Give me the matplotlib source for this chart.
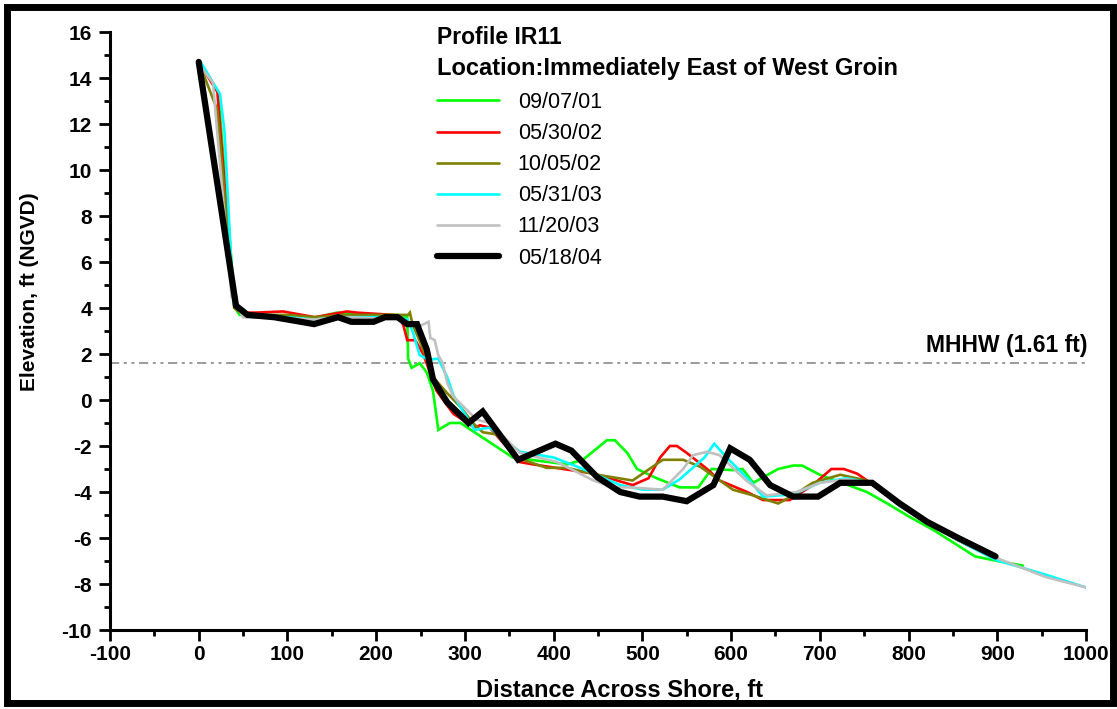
import matplotlib
matplotlib.use("Agg")
import matplotlib.pyplot as plt
from matplotlib.patches import Rectangle
from matplotlib.ticker import MultipleLocator

plt.rcParams['font.family'] = ['Liberation Sans', 'DejaVu Sans']
plt.rcParams['axes.unicode_minus'] = False

# ---- survey data: distance across shore (ft) and elevation (ft NGVD) ----
x_090701 = [0, 22, 41, 46, 70, 100, 133, 156, 180, 197, 224, 235, 236, 240, 249, 257, 264, 270,
            283, 295, 354, 415, 433, 460, 469, 483, 494, 516, 542, 563, 578, 602, 613, 625, 653,
            670, 680, 700, 753, 776, 802, 828, 875, 900, 929]
z_090701 = [14.7, 13.4, 4.0, 3.7, 3.7, 3.6, 3.6, 3.8, 3.7, 3.7, 3.7, 3.6, 1.8, 1.4, 1.6, 1.2, 0.4,
            -1.3, -1.0, -1.0, -2.5, -2.8, -2.6, -1.75, -1.75, -2.3, -3.0, -3.4, -3.8, -3.8, -3.0,
            -3.05, -3.0, -3.6, -3.0, -2.85, -2.85, -3.25, -4.0, -4.5, -5.1, -5.65, -6.8, -7.0, -7.2]

x_053002 = [0, 21, 40, 50, 65, 95, 131, 167, 178, 219, 227, 231, 235, 244, 253, 268, 287, 311,
            317, 328, 362, 377, 411, 445, 489, 507, 520, 531, 539, 550, 573, 587, 618, 636, 666,
            692, 713, 727, 742, 757, 790, 821, 856, 898]
z_053002 = [14.7, 13.4, 4.1, 3.8, 3.8, 3.85, 3.6, 3.85, 3.8, 3.7, 3.6, 3.2, 2.6, 2.6, 2.0, 0.4,
            -0.6, -1.2, -1.1, -1.2, -2.7, -2.8, -3.0, -3.2, -3.7, -3.4, -2.5, -2.0, -2.0, -2.3,
            -3.0, -3.5, -4.0, -4.35, -4.35, -3.7, -3.0, -3.0, -3.2, -3.6, -4.6, -5.3, -6.1, -6.9]

x_100502 = [0, 21, 40, 50, 100, 130, 167, 219, 236, 238, 241, 253, 264, 280, 295, 309, 320, 336,
            358, 392, 415, 449, 489, 523, 546, 565, 580, 602, 625, 653, 670, 692, 723, 753, 790,
            821, 856, 898]
z_100502 = [14.7, 12.6, 4.0, 3.7, 3.7, 3.6, 3.7, 3.7, 3.7, 3.8, 3.3, 2.2, 1.0, 0.3, -0.3, -1.0,
            -1.4, -1.5, -2.5, -2.95, -2.95, -3.25, -3.5, -2.6, -2.6, -2.9, -3.3, -3.9, -4.15,
            -4.5, -4.15, -3.6, -3.25, -3.5, -4.5, -5.3, -6.1, -6.9]

x_053103 = [2, 24, 29, 39, 61, 100, 130, 160, 200, 224, 235, 241, 249, 259, 270, 280, 287, 311,
            328, 362, 400, 430, 475, 501, 523, 542, 570, 581, 595, 621, 636, 670, 700, 730, 757,
            790, 821, 856, 898, 955, 1000]
z_053103 = [14.7, 13.3, 11.7, 4.2, 3.6, 3.6, 3.5, 3.6, 3.6, 3.6, 3.5, 3.0, 1.95, 1.75, 1.8, 1.0,
            0.2, -1.3, -1.2, -2.25, -2.5, -2.95, -3.7, -3.9, -3.9, -3.45, -2.5, -1.9, -2.5, -3.5,
            -4.2, -4.1, -3.6, -3.4, -3.6, -4.6, -5.3, -6.1, -6.95, -7.6, -8.15]

x_112003 = [0, 16, 37, 50, 100, 130, 160, 200, 224, 240, 251, 259, 261, 266, 270, 275, 280, 287,
            313, 328, 362, 404, 445, 467, 486, 523, 546, 557, 573, 587, 617, 640, 674, 700, 730,
            757, 790, 821, 856, 898, 955, 1000]
z_112003 = [14.6, 13.8, 4.5, 3.6, 3.55, 3.5, 3.6, 3.55, 3.55, 3.3, 3.25, 3.4, 2.7, 2.6, 1.95, 1.6,
            0.75, 0.15, -0.85, -1.0, -2.3, -2.7, -3.5, -3.8, -3.8, -3.9, -3.0, -2.4, -2.25, -2.4,
            -3.5, -4.15, -4.0, -3.6, -3.45, -3.6, -4.55, -5.3, -6.05, -6.85, -7.7, -8.15]

x_051804 = [0, 42, 55, 85, 100, 130, 157, 172, 197, 210, 224, 235, 246, 257, 264, 280, 304, 320,
            360, 402, 420, 449, 475, 497, 523, 550, 580, 599, 621, 644, 670, 698, 723, 759, 790,
            821, 856, 898]
z_051804 = [14.7, 4.1, 3.7, 3.6, 3.5, 3.3, 3.6, 3.4, 3.4, 3.6, 3.6, 3.3, 3.3, 2.2, 0.9, -0.1,
            -1.0, -0.5, -2.6, -1.9, -2.2, -3.35, -4.0, -4.2, -4.2, -4.4, -3.7, -2.1, -2.6, -3.7,
            -4.2, -4.2, -3.6, -3.6, -4.5, -5.3, -6.0, -6.8]

survey_dates = ['09/07/01', '05/30/02', '10/05/02', '05/31/03', '11/20/03', '05/18/04']
mhhw = 1.61

profiles = [
    (x_090701, z_090701, '#00FF00', 1.9),
    (x_053002, z_053002, '#FF0000', 1.9),
    (x_100502, z_100502, '#808000', 1.9),
    (x_053103, z_053103, '#00FFFF', 1.9),
    (x_112003, z_112003, '#C0C0C0', 1.9),
    (x_051804, z_051804, '#000000', 4.5),
]

W, H = 1117, 709
fig = plt.figure(figsize=(W / 100, H / 100), dpi=100)
ax = fig.add_axes([110 / W, 1 - 630 / H, (1086 - 110) / W, (630 - 32) / H])

handles = []
for (xs, zs, color, lw), label in zip(profiles, survey_dates):
    line, = ax.plot(xs, zs, color=color, lw=lw, label=label,
                    solid_joinstyle='miter', solid_capstyle='round')
    handles.append(line)

# mean higher high water reference line
ax.axhline(mhhw, color='#808080', lw=1.1, dashes=(6, 3, 2, 3, 2, 3), zorder=0.5)
ax.text(1002, mhhw + 0.25, 'MHHW (1.61 ft)', ha='right', va='bottom',
        fontsize=16.5, fontweight='bold', clip_on=False)

ax.set_xlim(-100, 1000)
ax.set_ylim(-10, 16)
ax.xaxis.set_major_locator(MultipleLocator(100))
ax.xaxis.set_minor_locator(MultipleLocator(50))
ax.yaxis.set_major_locator(MultipleLocator(2))
ax.yaxis.set_minor_locator(MultipleLocator(1))

for side in ('top', 'right'):
    ax.spines[side].set_visible(False)
for side in ('left', 'bottom'):
    ax.spines[side].set_linewidth(2.2)

ax.tick_params(which='major', direction='out', length=8, width=2.0,
               labelsize=15, pad=3)
ax.tick_params(which='minor', direction='out', length=4.5, width=2.0)
ax.tick_params(axis='y', which='major', pad=5)
for lab in ax.get_xticklabels() + ax.get_yticklabels():
    lab.set_fontweight('bold')

ax.set_xlabel('Distance Across Shore, ft', fontsize=17, fontweight='bold', va='center')
ax.set_ylabel('Elevation, ft (NGVD)', fontsize=15, fontweight='bold', va='center')
ax.xaxis.set_label_coords((620 - 110) / (1086 - 110), -(690 - 630) / (630 - 32))
ax.yaxis.set_label_coords(-(110 - 30) / (1086 - 110), (630 - 292) / (630 - 32))

# legend header and entries
fig.text(437 / W, 1 - 37 / H, 'Profile IR11', fontsize=16.5, fontweight='bold',
         ha='left', va='center')
fig.text(437 / W, 1 - 68 / H, 'Location:Immediately East of West Groin', fontsize=17,
         fontweight='bold', ha='left', va='center')
fig.legend(handles=handles, loc='upper left', bbox_to_anchor=(437 / W, 1 - 92 / H),
           frameon=False, fontsize=15.5, handlelength=2.9, handletextpad=0.85,
           labelspacing=0.47, borderpad=0, borderaxespad=0)

# outer frame
fig.patches.append(Rectangle((6.5 / W, 6.5 / H), (1113 - 6.5) / W, (702.5 - 6.5) / H,
                             transform=fig.transFigure, fill=False, lw=5,
                             edgecolor='black'))

fig.savefig('out.png', dpi=100)
